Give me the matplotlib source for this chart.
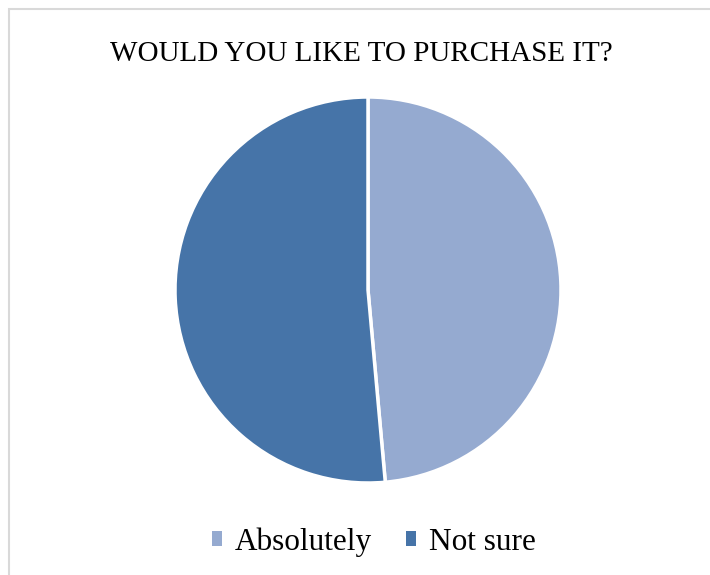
import matplotlib.pyplot as plt
from matplotlib.patches import Rectangle, Patch

labels = ['Absolutely', 'Not sure']
counts = [17, 18]
colors = ['#95AAD0', '#4674A8']

W, H = 710, 575
fig = plt.figure(figsize=(W / 100, H / 100), dpi=100)
fig.patch.set_facecolor('white')

# light grey chart frame
fig.patches.append(Rectangle((9 / W, -0.01), 1.0, (H - 9) / H + 0.01,
                             transform=fig.transFigure, fill=False,
                             edgecolor='#D9D9D9', linewidth=1.5))

# pie axes: centre (368, 290), radius 193 px
cx, cy, r = 368, 290, 193
ax = fig.add_axes([(cx - r) / W, (H - cy - r) / H, 2 * r / W, 2 * r / H])
ax.pie(counts, colors=colors, startangle=90, counterclock=False,
       wedgeprops=dict(edgecolor='white', linewidth=2.5))
ax.set_xlim(-1, 1)
ax.set_ylim(-1, 1)
ax.set_aspect('equal')

fig.text(361 / W, 1 - 54 / H, 'WOULD YOU LIKE TO PURCHASE IT?',
         ha='center', va='center', fontsize=21, family='Liberation Serif')

handles = [Patch(facecolor=c, edgecolor='none') for c in colors]
fig.legend(handles, labels, loc='center', bbox_to_anchor=(374 / W, 1 - 542 / H),
           ncol=2, frameon=False, prop={'family': 'Liberation Serif', 'size': 22.5},
           handlelength=0.32, handleheight=0.32, handletextpad=0.42,
           columnspacing=1.1)

fig.savefig('out.png', dpi=100)
